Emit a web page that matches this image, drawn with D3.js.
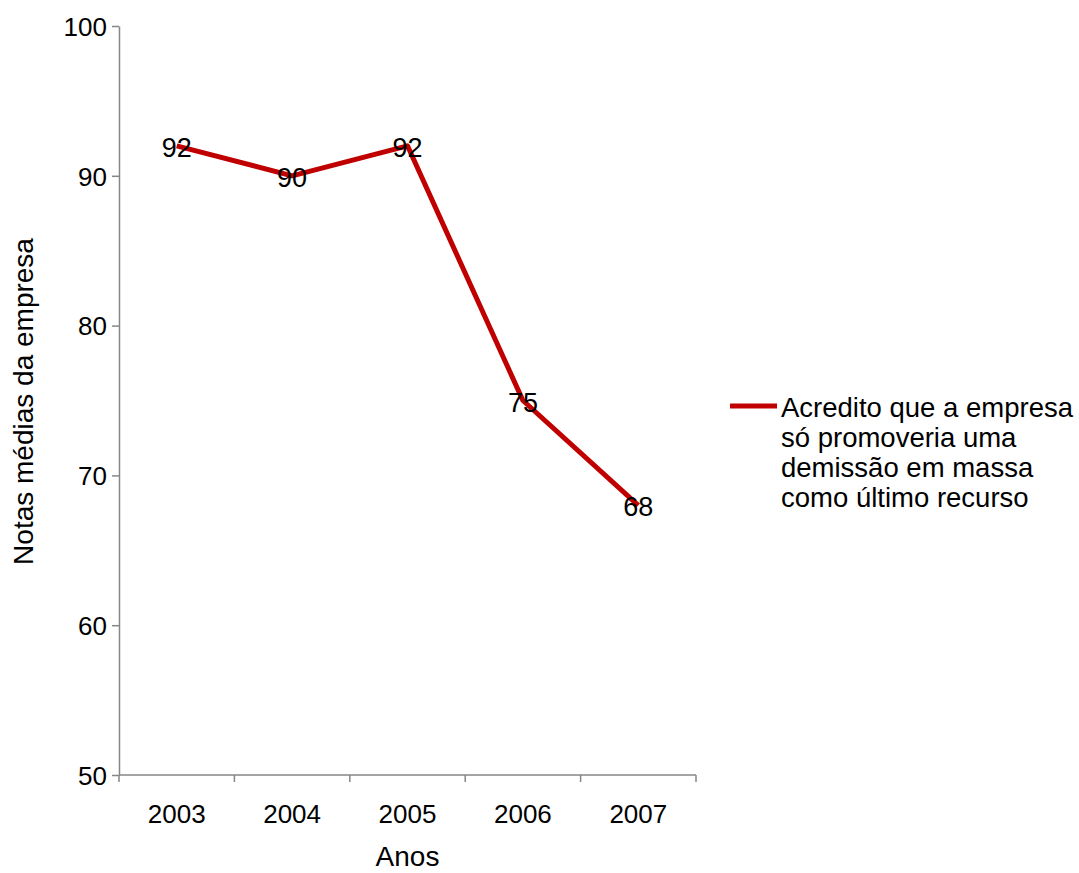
<!DOCTYPE html>
<html>
<head>
<meta charset="utf-8">
<script src="https://cdn.jsdelivr.net/npm/d3@7"></script>
<style>
  html, body { margin: 0; padding: 0; background: #fff; }
  svg { display: block; font-family: "Liberation Sans", Arial, sans-serif; }
</style>
</head>
<body>
<svg id="chart" width="1079" height="873"></svg>
<script>
// Average scores per year
const years = ["2003", "2004", "2005", "2006", "2007"];
const scores = [92, 90, 92, 75, 68];
const yTicks = [50, 60, 70, 80, 90, 100];
const seriesName = ["Acredito que a empresa", "só promoveria uma", "demissão em massa", "como último recurso"];
const xTitle = "Anos";
const yTitle = "Notas médias da empresa";

const svg = d3.select("#chart");
const plotLeft = 119, plotRight = 696, plotTop = 26, plotBottom = 775;
const lineColor = "#c00000";
const axisColor = "#868686";

const x = d3.scaleBand().domain(years).range([plotLeft, plotRight]).padding(0);
const y = d3.scaleLinear().domain([50, 100]).range([plotBottom, plotTop]);

// Y axis
const yAxis = svg.append("g")
  .attr("transform", `translate(${plotLeft},0)`)
  .call(d3.axisLeft(y).tickValues(yTicks).tickSize(7).tickPadding(5).tickSizeOuter(0));
yAxis.attr("font-family", null).attr("font-size", null);
yAxis.select(".domain").attr("stroke", axisColor).attr("stroke-width", 1.5);
yAxis.selectAll(".tick line").attr("stroke", axisColor).attr("stroke-width", 1.5);
yAxis.selectAll(".tick text").attr("fill", "#000").attr("font-size", 26).attr("dy", "0.36em");

// X axis: tick marks sit on band boundaries
const xg = svg.append("g").attr("transform", `translate(0,${plotBottom})`);
xg.append("line").attr("x1", plotLeft).attr("x2", plotRight).attr("stroke", axisColor).attr("stroke-width", 1.5);
const bounds = years.map(d => x(d)).concat([plotRight]);
xg.selectAll("line.tick").data(bounds).join("line")
  .attr("class", "tick")
  .attr("x1", d => d).attr("x2", d => d).attr("y1", 0).attr("y2", 7)
  .attr("stroke", axisColor).attr("stroke-width", 1.5);
xg.selectAll("text").data(years).join("text")
  .attr("x", d => x(d) + x.bandwidth() / 2)
  .attr("y", 48)
  .attr("text-anchor", "middle")
  .attr("font-size", 26)
  .text(d => d);

// Axis titles
svg.append("text")
  .attr("x", (plotLeft + plotRight) / 2).attr("y", 866)
  .attr("text-anchor", "middle").attr("font-size", 28)
  .text(xTitle);
svg.append("text")
  .attr("transform", `translate(33,${(plotTop + plotBottom) / 2 + 1}) rotate(-90)`)
  .attr("text-anchor", "middle").attr("font-size", 28)
  .text(yTitle);

// Line series
const pts = years.map((d, i) => ({ year: d, v: scores[i] }));
const line = d3.line().x(d => x(d.year) + x.bandwidth() / 2).y(d => y(d.v));
svg.append("path").datum(pts)
  .attr("d", line)
  .attr("fill", "none")
  .attr("stroke", lineColor)
  .attr("stroke-width", 5)
  .attr("stroke-linejoin", "round");

// Data labels centered on points
svg.selectAll("text.lbl").data(pts).join("text")
  .attr("class", "lbl")
  .attr("x", d => x(d.year) + x.bandwidth() / 2)
  .attr("y", d => y(d.v))
  .attr("dy", "0.41em")
  .attr("text-anchor", "middle")
  .attr("font-size", 27)
  .text(d => d3.format("d")(d.v));

// Legend
const lg = svg.append("g").attr("transform", "translate(730,406)");
lg.append("line").attr("x1", 0).attr("x2", 47).attr("stroke", lineColor).attr("stroke-width", 5);
lg.selectAll("text").data(seriesName).join("text")
  .attr("x", 51)
  .attr("y", (d, i) => 11 + i * 30)
  .attr("font-size", 27.5)
  .text(d => d);
</script>
</body>
</html>
